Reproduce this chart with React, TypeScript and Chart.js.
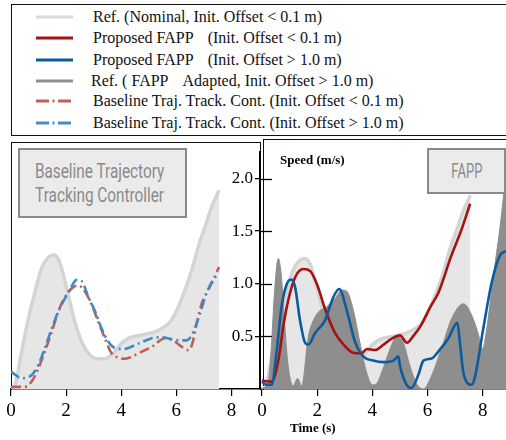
import React, { useEffect, useRef } from "react";
import { Chart, registerables } from "chart.js";

Chart.register(...registerables);

// ---------- data ----------
const X_TICKS = [0, 2, 4, 6, 8];
const Y_TICKS = [0.5, 1.0, 1.5, 2.0];

// Reference (nominal, init. offset < 0.1 m)
const NOMINAL_T = [0, 0.15, 0.39, 0.63, 0.87, 1.11, 1.36, 1.54, 1.72, 1.9, 2.08, 2.32, 2.56, 2.81, 3.11, 3.41, 3.71, 3.96, 4.26, 4.74, 5.23, 5.59, 5.83, 6.07, 6.32, 6.56, 6.8, 7.04, 7.29, 7.55];
const NOMINAL_V = [0, 0.04, 0.35, 0.65, 0.9, 1.12, 1.22, 1.24, 1.2, 1.06, 0.87, 0.62, 0.44, 0.33, 0.28, 0.28, 0.33, 0.41, 0.47, 0.5, 0.53, 0.58, 0.64, 0.76, 0.92, 1.1, 1.32, 1.5, 1.69, 1.84];

// Baseline trajectory tracking controller (init. offset < 0.1 m)
const BASE_RED_T = [0, 0.5, 0.75, 0.99, 1.23, 1.48, 1.72, 1.96, 2.2, 2.44, 2.69, 2.93, 3.17, 3.41, 3.65, 3.9, 4.14, 4.62, 5.11, 5.59, 5.89, 6.2, 6.44, 6.58, 6.74, 6.92, 7.16, 7.34, 7.55];
const BASE_RED_V = [0.02, 0.02, 0.07, 0.19, 0.35, 0.53, 0.72, 0.85, 0.93, 0.96, 0.9, 0.78, 0.62, 0.47, 0.33, 0.29, 0.28, 0.33, 0.39, 0.47, 0.45, 0.39, 0.36, 0.42, 0.61, 0.79, 0.92, 1.01, 1.13];

// Baseline trajectory tracking controller (init. offset > 1.0 m)
const BASE_BLUE_T = [0, 0.39, 0.75, 0.99, 1.23, 1.48, 1.72, 1.96, 2.2, 2.38, 2.56, 2.81, 3.05, 3.29, 3.53, 3.77, 4.08, 4.62, 5.11, 5.47, 5.83, 6.2, 6.38, 6.62, 6.86, 7.1, 7.34, 7.53];
const BASE_BLUE_V = [0.16, 0.1, 0.13, 0.22, 0.38, 0.56, 0.72, 0.84, 0.95, 1.01, 1.0, 0.85, 0.72, 0.56, 0.44, 0.38, 0.37, 0.42, 0.47, 0.48, 0.46, 0.45, 0.45, 0.53, 0.7, 0.89, 1.01, 1.07];

// Proposed FAPP (init. offset < 0.1 m)
const FAPP_RED_T = [0, 0.35, 0.6, 0.77, 0.95, 1.2, 1.5, 1.75, 2.0, 2.3, 2.65, 3.0, 3.3, 3.6, 3.8, 4.1, 4.4, 4.65, 5.0, 5.25, 5.5, 5.75, 6.1, 6.4, 6.85, 7.25, 7.54];
const FAPP_RED_V = [0.08, 0.07, 0.28, 0.59, 0.84, 1.06, 1.14, 1.12, 0.99, 0.75, 0.53, 0.41, 0.345, 0.34, 0.38, 0.37, 0.42, 0.47, 0.51, 0.44, 0.51, 0.6, 0.78, 0.92, 1.26, 1.53, 1.76];

// Proposed FAPP (init. offset > 1.0 m)
const FAPP_BLUE_T = [0, 0.18, 0.35, 0.53, 0.71, 0.89, 1.05, 1.2, 1.38, 1.56, 1.68, 1.92, 2.28, 2.58, 2.8, 3.07, 3.37, 3.67, 4.03, 4.4, 4.76, 4.94, 5.0, 5.24, 5.42, 5.66, 5.85, 6.15, 6.4, 6.75, 7.08, 7.17, 7.3, 7.6, 7.72, 8.02, 8.32, 8.62, 8.84];
const FAPP_BLUE_V = [0.07, 0.04, 0.04, 0.35, 0.78, 0.99, 1.04, 0.97, 0.65, 0.44, 0.42, 0.53, 0.65, 0.87, 0.95, 0.75, 0.45, 0.31, 0.27, 0.255, 0.27, 0.31, 0.22, 0.04, 0.01, 0.13, 0.27, 0.29, 0.36, 0.48, 0.63, 0.44, 0.15, 0.04, 0.12, 0.58, 1.01, 1.27, 1.31];

// Reference (FAPP adapted, init. offset > 1.0 m)
const ADAPT_T = [0, 0.25, 0.35, 0.45, 0.59, 0.71, 0.83, 0.95, 1.13, 1.29, 1.44, 1.68, 1.86, 2.04, 2.34, 2.64, 2.9, 3.07, 3.31, 3.55, 3.79, 4.0, 4.15, 4.34, 4.64, 4.88, 5.12, 5.36, 5.6, 5.85, 6.1, 6.51, 6.87, 7.3, 7.6, 7.84, 7.99, 8.14, 8.38, 8.62, 8.84];
const ADAPT_V = [0, 0.1, 0.44, 0.9, 1.24, 1.06, 0.59, 0.22, 0.03, 0.1, 0.03, 0.5, 0.65, 0.73, 0.78, 0.86, 0.94, 0.93, 0.75, 0.44, 0.16, 0.04, 0.05, 0.16, 0.38, 0.5, 0.44, 0.22, 0.05, 0, 0.1, 0.39, 0.67, 0.81, 0.7, 0.52, 0.38, 0.57, 1.07, 1.53, 2.05];

const LEGEND_ROWS = [
  { parts: ["Ref. (Nominal, Init. Offset < 0.1 m)"], color: "#dadada", dash: "" },
  { parts: ["Proposed FAPP", "(Init. Offset < 0.1 m)"], color: "#a51212", dash: "" },
  { parts: ["Proposed FAPP", "(Init. Offset > 1.0 m)"], color: "#0d5a9c", dash: "" },
  { parts: ["Ref. ( FAPP", "Adapted, Init. Offset > 1.0 m)"], color: "#8f8f8f", dash: "" },
  { parts: ["Baseline Traj. Track. Cont. (Init. Offset < 0.1 m)"], color: "#c0605a", dash: "13 3.5 2 3.5" },
  { parts: ["Baseline Traj. Track. Cont. (Init. Offset > 1.0 m)"], color: "#4a8cc2", dash: "13 3.5 2 3.5" },
];

// ---------- styles ----------
const SERIF = '"Liberation Serif", "Times New Roman", serif';
const C_NOM_LINE = "#d4d4d4";
const C_NOM_FILL = "#e6e6e6";
const C_ADAPT = "#8e8e8e";
const C_RED = "#a51212";
const C_BLUE = "#0d5a9c";
const C_BRED = "#c25b55";
const C_BBLUE = "#4189c2";
const DASHDOT = [10, 4, 2, 4];

const pts = (t: number[], v: number[]) => t.map((x, i) => ({ x, y: v[i] }));

const xScale = (min: number, max: number) => ({
  type: "linear",
  min,
  max,
  afterBuildTicks: (s: any) => {
    s.ticks = X_TICKS.map((value) => ({ value }));
  },
  afterFit: (s: any) => {
    s.height = 30;
  },
  grid: { drawOnChartArea: false, tickLength: 7, color: "#000", lineWidth: 1.2 },
  border: { color: "#000", width: 1.5 },
  ticks: { font: { family: SERIF, size: 19 }, color: "#000", padding: 4, maxRotation: 0 },
});

const innerTicks = {
  id: "innerTicks",
  afterDraw(chart: any) {
    const y = chart.scales.y;
    const ctx = chart.ctx;
    const left = chart.chartArea.left;
    ctx.save();
    ctx.strokeStyle = "#000";
    ctx.lineWidth = 1.3;
    y.ticks.forEach((t: any) => {
      const py = Math.round(y.getPixelForValue(t.value)) + 0.5;
      ctx.beginPath();
      ctx.moveTo(left, py);
      ctx.lineTo(left + 12, py);
      ctx.stroke();
    });
    ctx.restore();
  },
};

export default function App() {
  const leftRef = useRef<HTMLCanvasElement>(null);
  const rightRef = useRef<HTMLCanvasElement>(null);

  useEffect(() => {
    const common = {
      animation: false,
      responsive: false,
      events: [],
      plugins: { legend: { display: false }, tooltip: { enabled: false } },
      elements: { point: { radius: 0 }, line: { cubicInterpolationMode: "monotone" } },
    };

    const left = new Chart(leftRef.current as HTMLCanvasElement, {
      type: "line",
      data: {
        datasets: [
          { data: pts(NOMINAL_T, NOMINAL_V), borderColor: C_NOM_LINE, backgroundColor: C_NOM_FILL, borderWidth: 3.5, fill: "origin", order: 3 },
          { data: pts(BASE_RED_T, BASE_RED_V), borderColor: C_BRED, borderDash: DASHDOT, borderWidth: 2.6, fill: false, order: 2 },
          { data: pts(BASE_BLUE_T, BASE_BLUE_V), borderColor: C_BBLUE, borderDash: DASHDOT, borderWidth: 2.6, fill: false, order: 1 },
        ],
      },
      options: {
        ...common,
        layout: { padding: { left: 11, right: 3, top: 6, bottom: 21 } },
        scales: {
          x: xScale(0, 9),
          y: { display: false, min: 0, max: 2.25 },
        },
      } as any,
    } as any);

    const right = new Chart(rightRef.current as HTMLCanvasElement, {
      type: "line",
      data: {
        datasets: [
          { data: pts(NOMINAL_T, NOMINAL_V), borderColor: C_NOM_LINE, backgroundColor: C_NOM_FILL, borderWidth: 3.5, fill: "origin", order: 4 },
          { data: pts(ADAPT_T, ADAPT_V), borderColor: C_ADAPT, backgroundColor: C_ADAPT, borderWidth: 1, fill: "origin", order: 3 },
          { data: pts(FAPP_RED_T, FAPP_RED_V), borderColor: C_RED, borderWidth: 2.6, fill: false, order: 2 },
          { data: pts(FAPP_BLUE_T, FAPP_BLUE_V), borderColor: C_BLUE, borderWidth: 2.6, fill: false, order: 1 },
        ],
      },
      options: {
        ...common,
        layout: { padding: { left: 0, right: 0, top: 6, bottom: 21 } },
        scales: {
          x: xScale(-0.07, 8.84),
          y: {
            position: "left",
            min: 0,
            max: 2.25,
            afterBuildTicks: (s: any) => {
              s.ticks = Y_TICKS.map((value) => ({ value }));
            },
            afterFit: (s: any) => {
              s.width = 40;
            },
            grid: { drawOnChartArea: false, tickLength: 5, color: "#000", lineWidth: 1.3 },
            border: { color: "#000", width: 1.5 },
            ticks: {
              font: { family: SERIF, size: 17 },
              color: "#000",
              padding: 2,
              callback: (v: any) => Number(v).toFixed(1),
            },
          },
        },
      } as any,
      plugins: [innerTicks],
    } as any);

    return () => {
      left.destroy();
      right.destroy();
    };
  }, []);

  const abs = (s: React.CSSProperties): React.CSSProperties => ({ position: "absolute", boxSizing: "border-box", ...s });
  const rowY = [17, 38, 60, 80.5, 101, 123];
  const rowX = [93, 93, 93, 91, 93, 93];

  return (
    <div style={{ position: "absolute", left: 0, top: 0, width: 506, height: 440, overflow: "hidden", background: "#fff" }}>
      {/* legend */}
      <div style={abs({ left: 11, top: 4, width: 530, height: 132, border: "1.6px solid #111" })} />
      {LEGEND_ROWS.map((r, i) => (
        <React.Fragment key={i}>
          <svg style={abs({ left: 36, top: rowY[i] - 3, width: 37, height: 6 })} width={37} height={6}>
            <line x1={0} y1={3} x2={37} y2={3} stroke={r.color} strokeWidth={3} strokeDasharray={r.dash || undefined} />
          </svg>
          <div
            style={abs({
              left: rowX[i],
              top: rowY[i] - 10,
              height: 20,
              lineHeight: "20px",
              fontFamily: SERIF,
              fontSize: 16,
              color: "#111",
              whiteSpace: "nowrap",
            })}
          >
            {r.parts.map((p, j) => (
              <span key={j} style={{ marginLeft: j > 0 ? 14 : 0 }}>
                {p}
              </span>
            ))}
          </div>
        </React.Fragment>
      ))}

      {/* panel frames */}
      <div style={abs({ left: 11, top: 142, width: 250, height: 248, borderTop: "1.5px solid #111", borderLeft: "1.5px solid #111", borderRight: "1.5px solid #111" })} />
      <div style={abs({ left: 263, top: 139, width: 260, height: 251, borderTop: "1.5px solid #111", borderLeft: "1.5px solid #111" })} />

      <canvas ref={leftRef} width={262} height={300} style={abs({ left: 0, top: 140, width: 262, height: 300, display: "block" })} />
      <canvas ref={rightRef} width={286} height={300} style={abs({ left: 220, top: 140, width: 286, height: 300, display: "block" })} />

      {/* annotation boxes */}
      <div
        style={abs({
          left: 18,
          top: 148,
          width: 169,
          height: 70,
          border: "2.6px solid #8a8a8a",
          background: "#ebebeb",
          display: "flex",
          alignItems: "center",
          justifyContent: "center",
        })}
      >
        <div
          style={{
            fontFamily: "Roboto, sans-serif",
            fontSize: 21,
            lineHeight: "24px",
            color: "#8a8a8a",
            textAlign: "center",
            whiteSpace: "nowrap",
            transform: "scaleX(0.73)",
            marginLeft: -6,
          }}
        >
          Baseline Trajectory
          <br />
          Tracking Controller
        </div>
      </div>
      <div
        style={abs({
          left: 427,
          top: 148,
          width: 79,
          height: 46,
          border: "2.6px solid #8a8a8a",
          background: "#ebebeb",
          display: "flex",
          alignItems: "center",
          justifyContent: "center",
        })}
      >
        <div style={{ fontFamily: "Roboto, sans-serif", fontSize: 20, lineHeight: "24px", color: "#8a8a8a", transform: "scaleX(0.65)" }}>FAPP</div>
      </div>

      {/* axis titles */}
      <div style={abs({ left: 280, top: 152, height: 16, lineHeight: "16px", fontFamily: SERIF, fontWeight: "bold", fontSize: 13, color: "#000", whiteSpace: "nowrap" })}>
        Speed (m/s)
      </div>
      <div style={abs({ left: 290, top: 420, height: 16, lineHeight: "16px", fontFamily: SERIF, fontWeight: "bold", fontSize: 13, color: "#000", whiteSpace: "nowrap" })}>
        Time (s)
      </div>
    </div>
  );
}
